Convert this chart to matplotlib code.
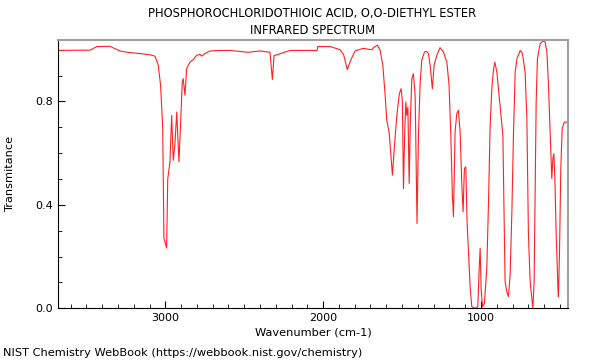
import matplotlib
matplotlib.use("Agg")
import matplotlib.pyplot as plt
from matplotlib.ticker import MultipleLocator

wavenumber = [3683, 3541, 3478, 3434, 3351, 3288, 3243, 3161, 3098, 3066,
              3045, 3030, 3017, 3009, 3003, 2992, 2985, 2971, 2960, 2950,
              2939, 2928, 2914, 2903, 2893, 2887, 2876, 2865, 2844, 2823,
              2802, 2781, 2770, 2749, 2717, 2654, 2590, 2476, 2400, 2337,
              2322, 2311, 2294, 2210, 2050, 2039, 2034, 1956, 1893, 1870,
              1847, 1825, 1798, 1747, 1692, 1677, 1656, 1639, 1622, 1607,
              1597, 1582, 1571, 1561, 1548, 1533, 1517, 1506, 1498, 1491,
              1483, 1476, 1470, 1463, 1455, 1447, 1438, 1428, 1417, 1411,
              1405, 1396, 1386, 1375, 1358, 1343, 1333, 1322, 1308, 1297,
              1280, 1259, 1238, 1216, 1202, 1191, 1181, 1174, 1164, 1153,
              1143, 1132, 1121, 1113, 1105, 1096, 1088, 1079, 1068, 1058,
              1037, 1020, 1011, 1005, 999, 990, 978, 963, 952, 942,
              931, 921, 912, 899, 883, 867, 861, 853, 847, 836,
              826, 815, 804, 794, 783, 772, 751, 737, 720, 709,
              699, 688, 677, 671, 663, 656, 650, 642, 625, 608,
              593, 582, 572, 561, 551, 544, 538, 532, 523, 512,
              509, 502, 494, 485, 472, 460, 447]
transmittance = [0.997, 0.998, 0.998, 1.012, 1.013, 0.995, 0.990, 0.985, 0.980, 0.975,
                 0.940, 0.860, 0.700, 0.270, 0.257, 0.233, 0.500, 0.566, 0.746, 0.572,
                 0.638, 0.759, 0.566, 0.720, 0.875, 0.888, 0.824, 0.927, 0.952, 0.962,
                 0.978, 0.982, 0.975, 0.985, 0.995, 0.997, 0.997, 0.990, 0.995, 0.990,
                 0.885, 0.978, 0.980, 0.997, 0.997, 0.995, 1.012, 1.012, 1.000, 0.980,
                 0.923, 0.960, 0.995, 1.005, 1.000, 1.010, 1.017, 0.998, 0.940, 0.824,
                 0.727, 0.682, 0.592, 0.515, 0.630, 0.746, 0.830, 0.849, 0.800, 0.463,
                 0.682, 0.798, 0.746, 0.778, 0.483, 0.734, 0.888, 0.907, 0.824, 0.566,
                 0.328, 0.669, 0.862, 0.959, 0.991, 0.993, 0.985, 0.940, 0.849, 0.940,
                 0.978, 1.008, 0.991, 0.952, 0.862, 0.669, 0.437, 0.354, 0.682, 0.753,
                 0.766, 0.682, 0.476, 0.373, 0.540, 0.547, 0.334, 0.218, 0.077, 0.006,
                 0.000, 0.006, 0.156, 0.232, 0.077, 0.006, 0.019, 0.154, 0.410, 0.700,
                 0.850, 0.920, 0.952, 0.913, 0.810, 0.708, 0.669, 0.334, 0.103, 0.064,
                 0.045, 0.129, 0.373, 0.669, 0.913, 0.965, 0.997, 0.985, 0.913, 0.733,
                 0.283, 0.103, 0.039, 0.000, 0.103, 0.476, 0.798, 0.965, 1.023, 1.033,
                 1.030, 0.991, 0.862, 0.669, 0.502, 0.579, 0.598, 0.515, 0.283, 0.077,
                 0.045, 0.218, 0.540, 0.695, 0.720, 0.720, 0.720]

title_lines = ["PHOSPHOROCHLORIDOTHIOIC ACID, O,O-DIETHYL ESTER", "INFRARED SPECTRUM"]
x_label = "Wavenumber (cm-1)"
y_label = "Transmitance"
footer = "NIST Chemistry WebBook (https://webbook.nist.gov/chemistry)"

fig = plt.figure(figsize=(6, 3.6), dpi=100)
ax = fig.add_axes([0.096, 0.1436, 0.851, 0.745])
ax.plot(wavenumber, transmittance, color="#ff2020", lw=0.8)
ax.set_xlim(3683, 447)
ax.set_ylim(0, 1.037)

ax.xaxis.set_major_locator(MultipleLocator(1000))
ax.xaxis.set_minor_locator(MultipleLocator(100))
ax.yaxis.set_major_locator(MultipleLocator(0.4))
ax.yaxis.set_minor_locator(MultipleLocator(0.1))
ax.yaxis.set_major_formatter(matplotlib.ticker.FormatStrFormatter("%.1f"))
ax.tick_params(which="both", direction="in", labelsize=8, top=False, right=False)
ax.tick_params(which="major", length=5)
ax.tick_params(which="minor", length=3)

for s in ("top", "right"):
    ax.spines[s].set_color("#a0a0a0")
    ax.spines[s].set_linewidth(1.5)
for s in ("left", "bottom"):
    ax.spines[s].set_color("black")
    ax.spines[s].set_linewidth(0.8)

ax.set_xlabel(x_label, fontsize=8.2, labelpad=3)
ax.set_ylabel(y_label, fontsize=8.2, labelpad=14)
fig.text(0.52, 0.963, title_lines[0], ha="center", va="center", fontsize=8.3)
fig.text(0.52, 0.915, title_lines[1], ha="center", va="center", fontsize=8.3)
fig.text(0.005, 0.02, footer, ha="left", va="center", fontsize=8.2)

fig.savefig("out.png", dpi=100)
